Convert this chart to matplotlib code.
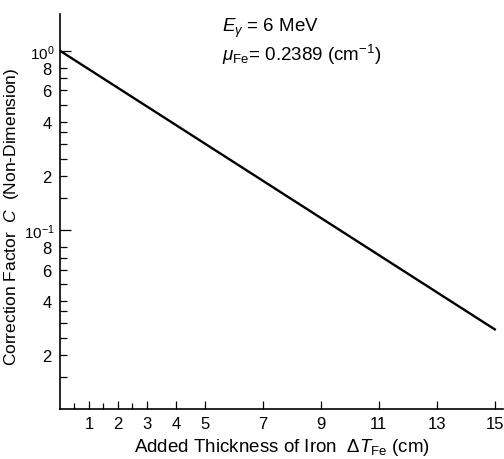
import numpy as np
import matplotlib.pyplot as plt
from matplotlib.ticker import FixedLocator, FixedFormatter

plt.rcParams['font.family'] = ['Liberation Sans', 'DejaVu Sans']
plt.rcParams['mathtext.fontset'] = 'custom'
plt.rcParams['mathtext.rm'] = 'Liberation Sans'
plt.rcParams['mathtext.it'] = 'Liberation Sans:italic'

# data
mu_fe = 0.2389
thickness = np.array([0, 15])          # cm
correction = np.exp(-mu_fe * thickness)

x_major = [1, 2, 3, 4, 5, 7, 9, 11, 13, 15]
x_minor = [0.5, 1.5, 2.5]
y_major = [1e-1, 1e0]
y_major_labels = [r'$10^{-1}$', r'$10^{0}$']
y_minor = [0.8, 0.7, 0.6, 0.5, 0.4, 0.35, 0.3, 0.25, 0.2, 0.15,
           0.08, 0.07, 0.06, 0.05, 0.04, 0.035, 0.03, 0.025, 0.02, 0.015]
y_minor_labels = {0.8: '8', 0.6: '6', 0.4: '4', 0.2: '2',
                  0.08: '8', 0.06: '6', 0.04: '4', 0.02: '2'}

fig = plt.figure(figsize=(5.04, 4.6), dpi=100)
ax = fig.add_axes([0.119, 0.109, 0.88, 0.858])

ax.plot(thickness, correction, color='black', lw=1.7)

ax.set_yscale('log')
ax.set_xlim(0, 15.3)
ax.set_ylim(0.01, 1.6)

ax.spines['top'].set_visible(False)
ax.spines['right'].set_visible(False)
ax.spines['left'].set_linewidth(1.2)
ax.spines['bottom'].set_linewidth(1.2)

ax.xaxis.set_major_locator(FixedLocator(x_major))
ax.xaxis.set_minor_locator(FixedLocator(x_minor))
ax.yaxis.set_major_locator(FixedLocator(y_major))
ax.yaxis.set_major_formatter(FixedFormatter(y_major_labels))
ax.yaxis.set_minor_locator(FixedLocator(y_minor))
ax.yaxis.set_minor_formatter(FixedFormatter([y_minor_labels.get(v, '') for v in y_minor]))

ax.tick_params(axis='both', which='both', direction='in', labelsize=12, width=0.9)
ax.tick_params(axis='x', which='major', length=6, pad=5)
ax.tick_params(axis='x', which='minor', length=4)
ax.tick_params(axis='y', which='major', length=8, pad=4, labelsize=11)
ax.tick_params(axis='y', which='minor', length=5, pad=6, labelsize=12)

ax.set_xlabel(r'Added Thickness of Iron  $\Delta T_{\rm Fe}$ (cm)', fontsize=13.5, labelpad=4)
ax.set_ylabel(r'Correction Factor  $C$  (Non-Dimension)', fontsize=12.5)
ax.yaxis.set_label_coords(-0.088, 0.49)

ax.text(0.365, 0.995, r'$E_{\gamma}$ = 6 MeV', transform=ax.transAxes,
        fontsize=13.5, va='top', ha='left')
ax.text(0.365, 0.93, r'$\mu_{\rm Fe}$= 0.2389 (cm$^{-1}$)', transform=ax.transAxes,
        fontsize=13.5, va='top', ha='left')

fig.savefig('out.png', dpi=100)
